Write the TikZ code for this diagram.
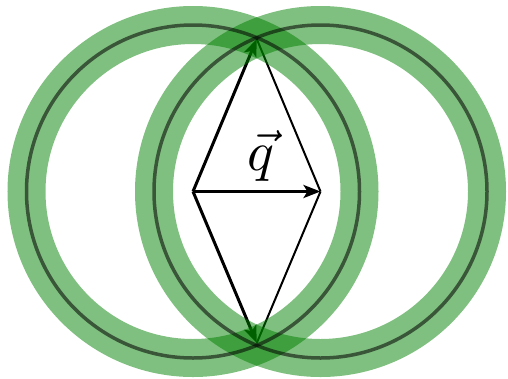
\documentclass[tikz,border=0pt]{standalone}
\usetikzlibrary{arrows.meta}
\begin{document}
\begin{tikzpicture}[x=1pt,y=-1pt,
  vec/.style={line width=3pt,-{Stealth[length=17pt,width=13pt,inset=4pt]}},
  side/.style={line width=2pt},
  ring/.style={draw=green!50!black,opacity=0.5,line width=38pt},
  rim/.style={draw=black,opacity=0.55,line width=3.5pt}]
\useasboundingbox (0,0) rectangle (508,378);
\coordinate (A) at (193,191.5);
\coordinate (B) at (320.5,191.5);
\coordinate (T) at (256.75,39);
\coordinate (D) at (256.75,343);
\draw[vec] (A) -- (T);
\draw[vec] (A) -- (B);
\draw[vec] (A) -- (D);
\draw[side] (B) -- (T);
\draw[side] (B) -- (D);
\node[anchor=base,inner sep=0pt] (q) at (261,170) {\scalebox{5.6}{$\vec{q}$}};
\draw[ring] (A) circle[radius=166.5];
\draw[ring] (B) circle[radius=166.5];
\draw[rim] (A) circle[radius=166.5];
\draw[rim] (B) circle[radius=166.5];
\end{tikzpicture}
\end{document}
